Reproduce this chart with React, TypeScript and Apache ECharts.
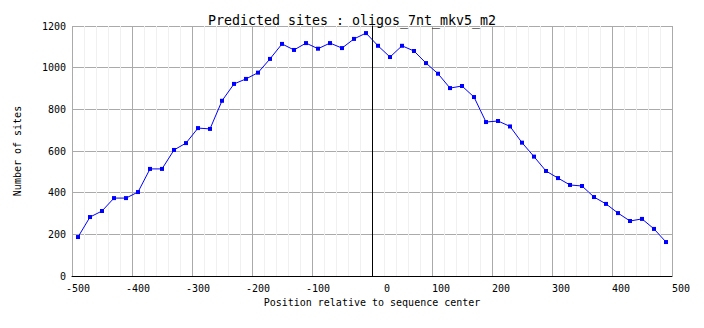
import React, { useEffect, useRef } from "react";
import * as echarts from "echarts";

const TITLE = "Predicted sites : oligos_7nt_mkv5_m2";
const X_NAME = "Position relative to sequence center";
const Y_NAME = "Number of sites";

const POSITIONS = [
  -490, -470, -450, -430, -410, -390, -370, -350, -330, -310,
  -290, -270, -250, -230, -210, -190, -170, -150, -130, -110,
  -90, -70, -50, -30, -10, 10, 30, 50, 70, 90,
  110, 130, 150, 170, 190, 210, 230, 250, 270, 290,
  310, 330, 350, 370, 390, 410, 430, 450, 470, 490,
];

const SITES = [
  187, 283, 312, 374, 374, 403, 514, 514, 605, 638,
  710, 706, 841, 922, 946, 976, 1042, 1114, 1085, 1118,
  1091, 1118, 1094, 1138, 1166, 1105, 1051, 1105, 1080, 1022,
  971, 902, 912, 859, 739, 744, 718, 640, 573, 504,
  470, 437, 432, 379, 346, 302, 264, 274, 226, 163,
];

const X_MIN = -500;
const X_MAX = 500;
const X_STEP = 100;
const Y_MIN = 0;
const Y_MAX = 1200;
const Y_STEP = 200;
const CENTER_LINE = 0;

const MONO = "'DejaVu Sans Mono', monospace";
const NBSP = "\u00a0";

export default function App() {
  const ref = useRef<HTMLDivElement>(null);

  useEffect(() => {
    document.body.style.margin = "0";
    if (!ref.current) return;
    const chart = echarts.init(ref.current, undefined, { renderer: "svg" });
    const data = POSITIONS.map((x, i) => [x, SITES[i]]);
    chart.setOption({
      animation: false,
      backgroundColor: "#ffffff",
      title: {
        text: TITLE,
        left: "center",
        top: 9,
        textStyle: {
          fontFamily: MONO,
          fontSize: 13.3,
          fontWeight: "normal",
          color: "#000000",
        },
      },
      grid: { left: 72, top: 26, width: 600, height: 250, containLabel: false },
      xAxis: {
        type: "value",
        min: X_MIN,
        max: X_MAX,
        interval: X_STEP,
        name: X_NAME,
        nameLocation: "middle",
        nameGap: 21,
        nameTextStyle: { fontFamily: MONO, fontSize: 10, color: "#000000" },
        axisLine: { show: true, onZero: false, lineStyle: { color: "#000000", width: 1 } },
        axisTick: { show: false },
        axisLabel: {
          fontFamily: MONO,
          fontSize: 10,
          color: "#000000",
          margin: 7,
          align: "center",
          formatter: (v: number) => {
            const s = String(v);
            let pad = "";
            for (let i = s.length; i < 6; i++) pad += NBSP;
            return pad + s;
          },
        },
        splitLine: { show: true, lineStyle: { color: "#aaaaaa", width: 1 } },
        minorTick: { show: false, splitNumber: 5 },
        minorSplitLine: { show: true, lineStyle: { color: "#f0f0f0", width: 1 } },
      },
      yAxis: {
        type: "value",
        min: Y_MIN,
        max: Y_MAX,
        interval: Y_STEP,
        name: Y_NAME,
        nameLocation: "middle",
        nameRotate: 90,
        nameGap: 50,
        nameTextStyle: { fontFamily: MONO, fontSize: 10, color: "#000000" },
        axisLine: { show: true, lineStyle: { color: "#000000", width: 1 } },
        axisTick: { show: false },
        axisLabel: {
          fontFamily: MONO,
          fontSize: 10,
          color: "#000000",
          margin: 6,
          padding: [6, 0, 0, 0],
          formatter: (v: number) => String(v),
        },
        splitLine: { show: true, lineStyle: { color: "#aaaaaa", width: 1 } },
      },
      series: [
        {
          type: "line",
          data,
          symbol: "rect",
          symbolSize: 4,
          itemStyle: { color: "#0000ff" },
          lineStyle: { color: "#0000ff", width: 1 },
          markLine: {
            silent: true,
            symbol: "none",
            label: { show: false },
            lineStyle: { color: "#000000", width: 1, type: "solid" },
            data: [{ xAxis: CENTER_LINE }],
          },
        },
      ],
    });
    return () => chart.dispose();
  }, []);

  return (
    <div
      ref={ref}
      style={{ position: "absolute", left: 0, top: 0, width: 704, height: 328, background: "#ffffff" }}
    />
  );
}
